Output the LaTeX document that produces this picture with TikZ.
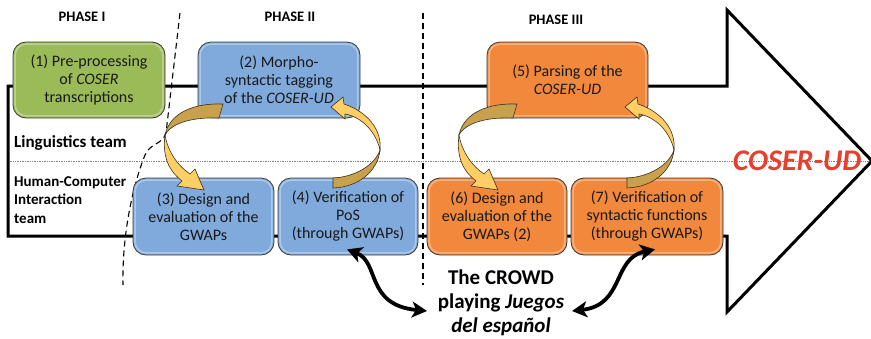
\documentclass[tikz,border=0pt]{standalone}
\usepackage{fontspec}
\setmainfont{Carlito}
\usetikzlibrary{arrows.meta,calc}
\definecolor{gbox}{RGB}{155,187,89}
\definecolor{bbox}{RGB}{128,170,219}
\definecolor{obox}{RGB}{241,136,60}
\definecolor{boxline}{RGB}{60,60,60}
\definecolor{ydark}{RGB}{201,161,76}
\definecolor{ylight}{RGB}{255,207,102}
\definecolor{yline}{RGB}{60,50,30}
\definecolor{cred}{RGB}{234,62,44}
\tikzset{
  stagebox/.style={draw=boxline, line width=0.8pt, rounded corners=13pt, inner sep=0pt,
    align=center, text=black!90, font=\fontsize{16}{18}\selectfont},
  bevel/.style={draw=white, opacity=0.35, line width=1.6pt, rounded corners=11pt},
  outline/.style={line width=3pt, line join=miter, draw=black},
  phaselabel/.style={font=\fontsize{14.5}{16}\selectfont\bfseries, inner sep=0pt},
  teamlabel/.style={font=\fontsize{15}{18.5}\selectfont\bfseries, inner sep=0pt, align=left, anchor=west},
  divider/.style={draw=black, line width=1.1pt, dash pattern=on 6pt off 4pt},
  ydarkpart/.style={fill=ydark, draw=yline, line width=0.6pt},
  ylightpart/.style={fill=ylight, draw=yline, line width=0.6pt},
  crowdarrow/.style={line width=3.8pt, {Stealth[length=15pt,width=16pt,inset=4pt]}-{Stealth[length=15pt,width=16pt,inset=4pt]}}
}
\begin{document}
\begin{tikzpicture}[x=1pt,y=-1pt]
\useasboundingbox (0,0) rectangle (871,338);
% dotted separator
\draw[gray, densely dotted, line width=0.7pt] (8,161) -- (871,161);
% big arrow outline
\draw[outline] (8,86) -- (727,86) -- (727,10) -- (872,161) -- (727,312) -- (727,236) -- (8,236) -- cycle;
% dividers
\draw[divider] (180,13) -- (166,133) .. controls (162,145) and (150,143) .. (145,155) .. controls (131,190) and (122,240) .. (123,285);
\draw[divider] (423,13) -- (423,285);
% phase labels
\node[phaselabel] (p1) at (82,17) {PHASE I};
\node[phaselabel] (p2) at (290,17) {PHASE II};
\node[phaselabel] (p3) at (556,20) {PHASE III};
% team labels
\node[teamlabel, font=\fontsize{17}{19}\selectfont\bfseries] (lt) at (14,143) {Linguistics team};
\node[teamlabel] (hci) at (14,200) {Human-Computer\\Interaction\\team};
% boxes
\node[stagebox, fill=gbox, minimum width=152pt, minimum height=76pt] (b1) at (89,80) {(1) Pre-processing\\of \textit{COSER}\\transcriptions};
\node[stagebox, fill=bbox, minimum width=162pt, minimum height=76pt] (b2) at (279,80) {(2) Morpho-\\syntactic tagging\\of the \textit{COSER-UD}};
\node[stagebox, fill=obox, minimum width=161pt, minimum height=76pt] (b5) at (567.5,80) {(5) Parsing of the\\\textit{COSER-UD}};
\node[stagebox, fill=bbox, minimum width=141pt, minimum height=77pt] (b3) at (203.5,216.5) {(3) Design and\\evaluation of the\\GWAPs};
\node[stagebox, fill=bbox, minimum width=140pt, minimum height=77pt] (b4) at (348,216.5) {(4) Verification of\\PoS\\(through GWAPs)};
\node[stagebox, fill=obox, minimum width=140pt, minimum height=77pt] (b6) at (497,216.5) {(6) Design and\\evaluation of the\\GWAPs (2)};
\node[stagebox, fill=obox, minimum width=152pt, minimum height=77pt] (b7) at (647,216.5) {(7) Verification of\\syntactic functions\\(through GWAPs)};
\foreach \b in {b1,b2,b5,b3,b4,b6,b7}{
  \draw[bevel] ($(\b.south west)+(2.5,-2.5)$) rectangle ($(\b.north east)+(-2.5,2.5)$);
}
% yellow circular arrows
\foreach \s in {0,294}{
\begin{scope}[xshift=\s pt]
 \path[ydarkpart] (223,104) .. controls (195,103) and (170,112) .. (165,135) .. controls (172,122) and (195,117) .. (219,118) -- cycle;
 \path[ylightpart] (165,135) .. controls (162,158) and (170,172) .. (182,181) -- (177,186) -- (204,190) -- (195,169) -- (190,174) .. controls (178,166) and (168,152) .. (165,135) -- cycle;
 \path[ydarkpart] (333,178) -- (333,188) .. controls (360,187) and (378,170) .. (380,150) .. controls (375,165) and (355,177) .. (333,178) -- cycle;
 \path[ylightpart] (380,150) .. controls (382,130) and (368,112) .. (344,104) -- (343,97) -- (331,107) -- (345,119) -- (345,114) .. controls (362,117) and (376,132) .. (380,150) -- cycle;
\end{scope}}
% result label
\node[font=\fontsize{30}{32}\selectfont\bfseries\itshape, text=cred, inner sep=0pt] (ud) at (797,161) {COSER-UD};
% crowd
\node[font=\fontsize{21}{24}\selectfont\bfseries, align=center, inner sep=0pt, anchor=north] (crowd) at (501,270) {The CROWD\\playing \textit{Juegos}\\\textit{del español}};
\coordinate (a4) at ($(b4.south)+(-1,-6)$);
\coordinate (a7) at ($(b7.south)+(8,-6)$);
\coordinate (cl) at (427,311);
\coordinate (cr) at (572,311);
\draw[crowdarrow] (a4) .. controls (380,262) and (365,305) .. (cl);
\draw[crowdarrow] (a7) .. controls (612,258) and (625,305) .. (cr);
\end{tikzpicture}
\end{document}
